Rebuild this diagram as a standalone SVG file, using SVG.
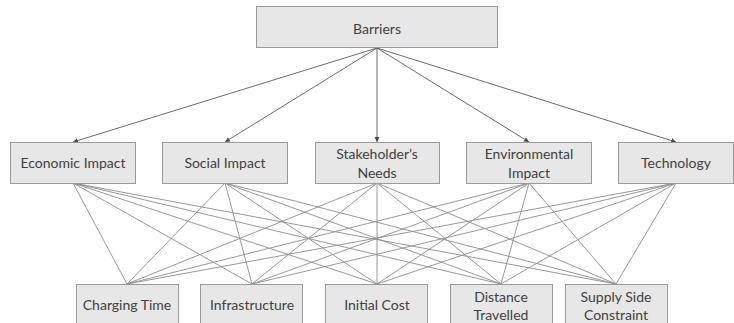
<svg xmlns="http://www.w3.org/2000/svg" width="734" height="323" viewBox="0 0 734 323">
  <style>
    .box { fill: #e7e7e7; stroke: #9a9a9a; stroke-width: 1; }
    .label { font-family: Lato, "Open Sans", "Liberation Sans", sans-serif; font-size: 14px; fill: #3f3f3f; text-anchor: middle; dominant-baseline: central; }
    .link { stroke: #8c8c8c; stroke-width: 0.9; fill: none; }
    .arrow { stroke: #5a5a5a; stroke-width: 0.9; fill: none; marker-end: url(#head); }
  </style>
  <defs>
    <marker id="head" markerWidth="6" markerHeight="6" refX="5" refY="3" orient="auto" markerUnits="userSpaceOnUse">
      <path d="M0,0.5 L5,3 L0,5.5 Z" fill="#4a4a4a"/>
    </marker>
  </defs>
  <rect width="734" height="323" fill="#ffffff"/>

  <g id="connectors">
    <!-- top level to categories -->
    <line class="arrow" x1="377" y1="48" x2="73" y2="142"/>
    <line class="arrow" x1="377" y1="48" x2="225" y2="142"/>
    <line class="arrow" x1="377" y1="48" x2="377" y2="142"/>
    <line class="arrow" x1="377" y1="48" x2="529" y2="142"/>
    <line class="arrow" x1="377" y1="48" x2="676" y2="142"/>
    <!-- categories to factors (every pair) -->
    <g>
      <line class="link" x1="73" y1="183" x2="127" y2="284"/>
      <line class="link" x1="73" y1="183" x2="252" y2="284"/>
      <line class="link" x1="73" y1="183" x2="377" y2="284"/>
      <line class="link" x1="73" y1="183" x2="501" y2="284"/>
      <line class="link" x1="73" y1="183" x2="616" y2="284"/>
      <line class="link" x1="225" y1="183" x2="127" y2="284"/>
      <line class="link" x1="225" y1="183" x2="252" y2="284"/>
      <line class="link" x1="225" y1="183" x2="377" y2="284"/>
      <line class="link" x1="225" y1="183" x2="501" y2="284"/>
      <line class="link" x1="225" y1="183" x2="616" y2="284"/>
      <line class="link" x1="377" y1="183" x2="127" y2="284"/>
      <line class="link" x1="377" y1="183" x2="252" y2="284"/>
      <line class="link" x1="377" y1="183" x2="377" y2="284"/>
      <line class="link" x1="377" y1="183" x2="501" y2="284"/>
      <line class="link" x1="377" y1="183" x2="616" y2="284"/>
      <line class="link" x1="529" y1="183" x2="127" y2="284"/>
      <line class="link" x1="529" y1="183" x2="252" y2="284"/>
      <line class="link" x1="529" y1="183" x2="377" y2="284"/>
      <line class="link" x1="529" y1="183" x2="501" y2="284"/>
      <line class="link" x1="529" y1="183" x2="616" y2="284"/>
      <line class="link" x1="676" y1="183" x2="127" y2="284"/>
      <line class="link" x1="676" y1="183" x2="252" y2="284"/>
      <line class="link" x1="676" y1="183" x2="377" y2="284"/>
      <line class="link" x1="676" y1="183" x2="501" y2="284"/>
      <line class="link" x1="676" y1="183" x2="616" y2="284"/>
    </g>
  </g>

  <g id="barriers">
    <rect class="box" x="256.5" y="6.5" width="241" height="41"/>
    <text class="label" x="377" y="28">Barriers</text>
  </g>

  <g id="economic-impact">
    <rect class="box" x="10.5" y="142.5" width="125" height="41"/>
    <text class="label" x="73" y="162">Economic Impact</text>
  </g>
  <g id="social-impact">
    <rect class="box" x="162.5" y="142.5" width="125" height="41"/>
    <text class="label" x="225" y="162">Social Impact</text>
  </g>
  <g id="stakeholders-needs">
    <rect class="box" x="315.5" y="142.5" width="124" height="41"/>
    <text class="label" x="377" y="153">Stakeholder’s</text>
    <text class="label" x="377" y="172">Needs</text>
  </g>
  <g id="environmental-impact">
    <rect class="box" x="466.5" y="142.5" width="125" height="41"/>
    <text class="label" x="529" y="153">Environmental</text>
    <text class="label" x="529" y="172">Impact</text>
  </g>
  <g id="technology">
    <rect class="box" x="618.5" y="142.5" width="115" height="41"/>
    <text class="label" x="676" y="162">Technology</text>
  </g>

  <g id="charging-time">
    <rect class="box" x="76.5" y="284.5" width="102" height="50"/>
    <text class="label" x="127" y="304">Charging Time</text>
  </g>
  <g id="infrastructure">
    <rect class="box" x="200.5" y="284.5" width="102" height="50"/>
    <text class="label" x="252" y="304">Infrastructure</text>
  </g>
  <g id="initial-cost">
    <rect class="box" x="325.5" y="284.5" width="102" height="50"/>
    <text class="label" x="377" y="304">Initial Cost</text>
  </g>
  <g id="distance-travelled">
    <rect class="box" x="450.5" y="284.5" width="102" height="50"/>
    <text class="label" x="501" y="296">Distance</text>
    <text class="label" x="501" y="314">Travelled</text>
  </g>
  <g id="supply-side-constraint">
    <rect class="box" x="565.5" y="284.5" width="102" height="50"/>
    <text class="label" x="616" y="296">Supply Side</text>
    <text class="label" x="616" y="314">Constraint</text>
  </g>
</svg>
